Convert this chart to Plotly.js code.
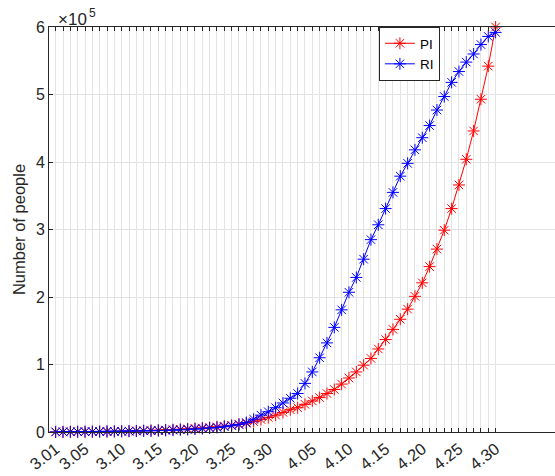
<!DOCTYPE html>
<html>
<head>
<meta charset="utf-8">
<script src="https://cdn.plot.ly/plotly-3.0.1.min.js"></script>
<style>html,body{margin:0;padding:0;overflow:hidden;background:#fff}#chart{width:555px;height:476px}</style>
</head>
<body>
<div id="chart"></div>
<script>
// Dates (month.day), 1 March to 30 April
const days = [];
for (let d = 1; d <= 31; d++) days.push('3.' + String(d).padStart(2, '0'));
for (let d = 1; d <= 30; d++) days.push('4.' + String(d).padStart(2, '0'));

const tickLabels = ['3.01','3.05','3.10','3.15','3.20','3.25','3.30','4.05','4.10','4.15','4.20','4.25','4.30'];

const PI = [100,100,200,200,300,400,500,700,900,1100,1300,1600,1900,2200,2600,3000,3500,4000,4600,5300,
  6000,6800,7700,8800,10000,11500,13000,15500,18500,21500,25000,29000,33000,36000,41000,46000,51000,57000,63000,71000,
  80000,89000,99000,109000,123000,137000,152000,167000,182000,201000,221000,245000,271000,299000,331000,366000,404000,446000,493000,542000,
  600000];

const RI = [100,200,300,400,500,600,700,800,900,1000,1200,1400,1600,1800,2100,2400,2800,3200,3700,4300,
  5000,5800,6700,7800,9200,11000,14000,19000,25000,30000,36000,43000,50000,57000,72000,89000,110000,132000,155000,181000,
  207000,229000,256000,285000,307000,331000,355000,379000,398000,418000,436000,454000,477000,497000,518000,534000,548000,560000,574000,586000,
  592000];

const yTicks = [0,100000,200000,300000,400000,500000,600000];
const yTickText = ['0','1','2','3','4','5','6'];

const font = 'Liberation Sans, Arial, Helvetica, sans-serif';
const axisCol = '#262626';

const traces = [
  {x: days, y: PI, name: 'PI', type: 'scatter', mode: 'lines+markers', cliponaxis: false,
   line: {color: '#ff0000', width: 1},
   marker: {symbol: 'asterisk-open', size: 10, color: '#ff0000', line: {color: '#ff0000', width: 1}}},
  {x: days, y: RI, name: 'RI', type: 'scatter', mode: 'lines+markers', cliponaxis: false,
   line: {color: '#0000ff', width: 1},
   marker: {symbol: 'asterisk-open', size: 10, color: '#0000ff', line: {color: '#0000ff', width: 1}}}
];

const layout = {
  width: 555, height: 476,
  margin: {l: 49, r: 0, t: 27, b: 44, pad: 0},
  paper_bgcolor: '#fff', plot_bgcolor: '#fff',
  font: {family: font, size: 15, color: axisCol},
  showlegend: true,
  legend: {x: 0.652, y: 1.0, xanchor: 'left', yanchor: 'top',
    bgcolor: '#fff', bordercolor: axisCol, borderwidth: 1,
    font: {family: font, size: 13.5, color: '#000'}, itemwidth: 30, tracegroupgap: 0},
  xaxis: {
    type: 'category', range: [-0.91, 68.1],
    tickmode: 'array', tickvals: days,
    ticktext: days.map(d => tickLabels.includes(d) ? d : ''),
    tickangle: -38, tickfont: {family: font, size: 16.5, color: axisCol},
    ticks: 'inside', ticklen: 4, tickcolor: axisCol, tickwidth: 1,
    showline: true, linecolor: axisCol, linewidth: 1, mirror: 'ticks',
    showgrid: true, gridcolor: '#e3e3e3', gridwidth: 1, zeroline: false
  },
  yaxis: {
    range: [0, 600000],
    tickmode: 'array', tickvals: yTicks, ticktext: yTickText,
    tickfont: {family: font, size: 16, color: axisCol},
    ticks: 'inside', ticklen: 4, tickcolor: axisCol,
    showline: true, linecolor: axisCol, linewidth: 1, mirror: false,
    showgrid: true, gridcolor: '#e3e3e3', zeroline: false,
    title: {text: 'Number of people', font: {family: font, size: 16.5, color: axisCol}, standoff: 6}
  },
  annotations: [
    {xref: 'paper', yref: 'paper', x: 0.0, y: 1, xanchor: 'left', yanchor: 'bottom', xshift: 7, yshift: -4,
     text: '×10', showarrow: false, font: {family: font, size: 17, color: axisCol}},
    {xref: 'paper', yref: 'paper', x: 0.0, y: 1, xanchor: 'left', yanchor: 'bottom', xshift: 38, yshift: 5,
     text: '5', showarrow: false, font: {family: font, size: 12, color: axisCol}}
  ]
};

Plotly.newPlot('chart', traces, layout, {displayModeBar: false, staticPlot: true});
</script>
</body>
</html>
